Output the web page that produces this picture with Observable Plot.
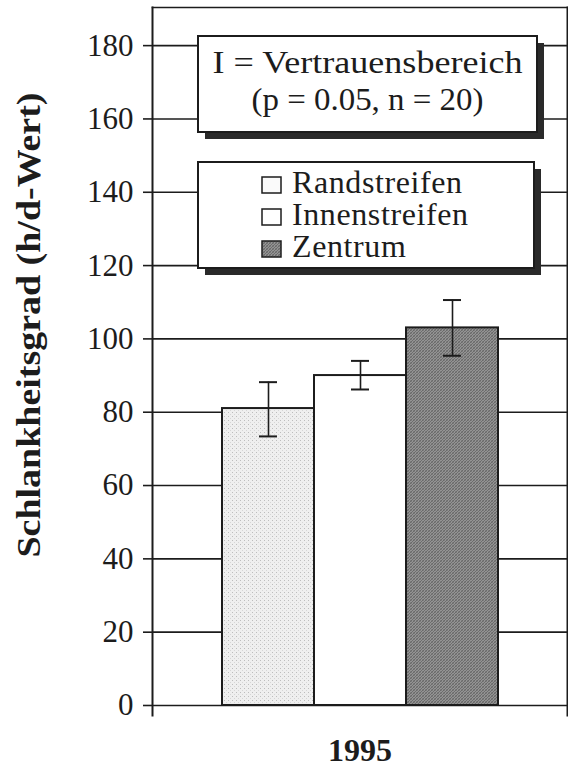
<!DOCTYPE html>
<html><head><meta charset="utf-8">
<script src="https://cdn.jsdelivr.net/npm/d3@7"></script>
<script src="https://cdn.jsdelivr.net/npm/@observablehq/plot@0.6"></script>
<style>body{margin:0;background:#fff}</style>
</head><body><div id="chart"></div>
<script>
const categories = ["Randstreifen", "Innenstreifen", "Zentrum"];
const values = [81, 90, 103];
const ciLow = [73.4, 86.2, 95.4];
const ciHigh = [88.2, 94.0, 110.6];
const yTicks = [0, 20, 40, 60, 80, 100, 120, 140, 160, 180];
const yearLabel = "1995";
const yLabel = "Schlankheitsgrad (h/d-Wert)";
const noteLines = ["I = Vertrauensbereich", "(p = 0.05, n = 20)"];
const fills = ["url(#stipple)", "#ffffff", "url(#hatch)"];

const data = categories.map((c, i) => ({cat: c, value: values[i], lo: ciLow[i], hi: ciHigh[i]}));
const ink = "#1c1c1c";
const serif = "'Liberation Serif', 'Times New Roman', serif";

const chart = Plot.plot({
  width: 568, height: 769,
  marginLeft: 152, marginRight: 1, marginTop: 7, marginBottom: 54,
  style: {fontFamily: serif, fontSize: "31px", color: ink, background: "#fff"},
  x: {domain: categories, paddingInner: 0, paddingOuter: 0.739, axis: null},
  y: {domain: [-2.73, 190.4]},
  color: {type: "ordinal", domain: categories, range: fills},
  marks: [
    Plot.ruleY(yTicks, {stroke: ink, strokeWidth: 1.6}),
    Plot.axisY(yTicks, {tickSize: 9, tickPadding: 10, strokeWidth: 1.6, stroke: ink, label: null, fontSize: 31}),
    Plot.frame({anchor: "left", stroke: ink, strokeWidth: 2}),
    Plot.frame({anchor: "right", stroke: ink, strokeWidth: 2}),
    Plot.frame({anchor: "top", stroke: ink, strokeWidth: 1.6}),
    Plot.barY(data, {x: "cat", y: "value", fill: "cat", stroke: ink, strokeWidth: 2}),
    Plot.ruleX(data, {x: "cat", y1: "lo", y2: "hi", stroke: ink, strokeWidth: 1.6}),
    Plot.tickY(data, {x: "cat", y: "lo", insetLeft: 37, insetRight: 37, stroke: ink, strokeWidth: 2}),
    Plot.tickY(data, {x: "cat", y: "hi", insetLeft: 37, insetRight: 37, stroke: ink, strokeWidth: 2}),
    Plot.text([yLabel], {frameAnchor: "left", rotate: -90, textAnchor: "start", dx: -123, dy: 196, fontWeight: "bold", fontSize: 33, fill: ink}),
    Plot.text([yearLabel], {frameAnchor: "bottom", lineAnchor: "middle", dy: 35, fontWeight: "bold", fontSize: 32, fill: ink})
  ]
});
document.getElementById("chart").appendChild(chart);

const svg = d3.select(chart);
const defs = svg.insert("defs", ":first-child");
const st = defs.append("pattern").attr("id", "stipple").attr("patternUnits", "userSpaceOnUse").attr("width", 4).attr("height", 4);
st.append("rect").attr("width", 4).attr("height", 4).attr("fill", "#efefef");
st.append("rect").attr("width", 1).attr("height", 1).attr("fill", "#bdbdbd");
st.append("rect").attr("x", 2).attr("y", 2).attr("width", 1).attr("height", 1).attr("fill", "#d6d6d6");
const ht = defs.append("pattern").attr("id", "hatch").attr("patternUnits", "userSpaceOnUse").attr("width", 3).attr("height", 3);
ht.append("rect").attr("width", 3).attr("height", 3).attr("fill", "#939393");
ht.append("path").attr("d", "M-1,1L1,-1M0,3L3,0M2,4L4,2").attr("stroke", "#5e5e5e").attr("stroke-width", 0.8);
ht.append("path").attr("d", "M-1,2L1,4M0,0L3,3M2,-1L4,1").attr("stroke", "#707070").attr("stroke-width", 0.6);

// stretch y label to reference length
svg.selectAll("text").filter(function() { return this.textContent === yLabel; })
  .attr("textLength", 465).attr("lengthAdjust", "spacingAndGlyphs");

// legend / annotation boxes
const lg = svg.append("g").attr("font-family", serif).attr("fill", ink);
const boxes = [{x: 198, y: 36, w: 339, h: 96}, {x: 198, y: 162, w: 336, h: 106}];
for (const b of boxes) {
  lg.append("rect").attr("x", b.x + 7).attr("y", b.y + 7).attr("width", b.w).attr("height", b.h).attr("fill", "#2a2a2a");
  lg.append("rect").attr("x", b.x).attr("y", b.y).attr("width", b.w).attr("height", b.h).attr("fill", "#fff").attr("stroke", ink).attr("stroke-width", 2);
}
const noteBase = [73, 110], noteLen = [310, 232];
noteLines.forEach((t, i) => {
  lg.append("text").attr("x", 367.5 - noteLen[i] / 2).attr("y", noteBase[i]).attr("text-anchor", "start")
    .attr("font-size", 32).attr("textLength", noteLen[i]).attr("lengthAdjust", "spacingAndGlyphs").text(t);
});
categories.forEach((c, i) => {
  lg.append("rect").attr("x", 262).attr("y", 177 + 32 * i).attr("width", 19).attr("height", 16)
    .attr("fill", i === 0 ? "#fafafa" : fills[i]).attr("stroke", ink).attr("stroke-width", 1.5);
  lg.append("text").attr("x", 292).attr("y", 193 + 32 * i).attr("text-anchor", "start")
    .attr("font-size", 32).attr("letter-spacing", 0.6).text(c);
});
</script></body></html>
